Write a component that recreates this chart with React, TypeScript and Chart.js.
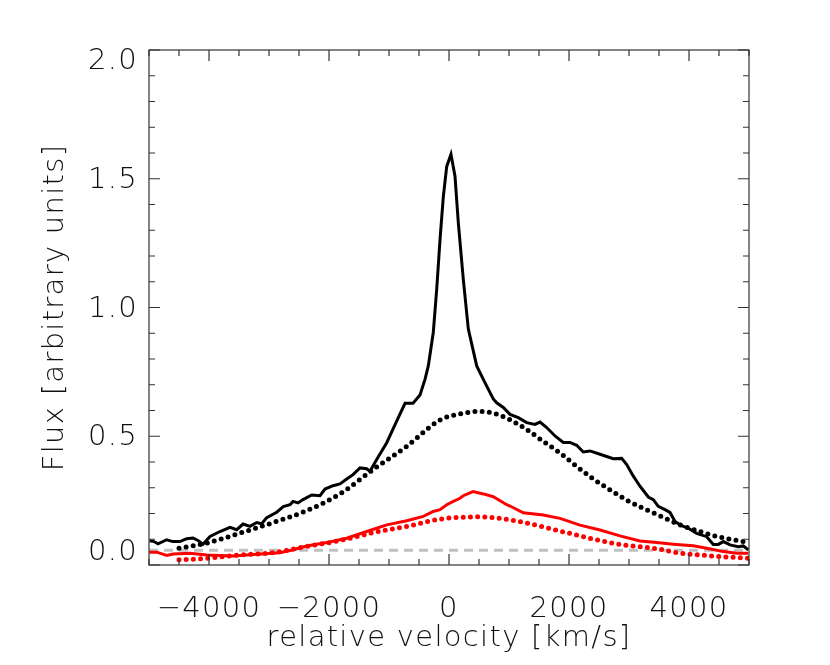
import { useEffect, useRef } from "react"
import { Chart, registerables } from "chart.js"

Chart.register(...registerables)

// observed profile (solid black)
const velBlack = [
  -4990, -4917, -4850, -4705, -4600, -4483, -4372, -4267, -4183, -4100, -3983, -3817, -3650, -3538,
  -3433, -3317, -3205, -3122, -3038, -2872, -2762, -2650, -2600, -2517, -2433, -2288, -2150, -2067,
  -1933, -1817, -1705, -1600, -1483, -1372, -1317, -1205, -1038, -872, -733, -600, -483, -400, -345,
  -262, -205, -150, -95, -38, 33, 100, 155, 238, 322, 462, 572, 650, 738, 795, 905, 1017, 1155, 1295,
  1433, 1517, 1628, 1767, 1905, 2017, 2128, 2238, 2350, 2517, 2738, 2878, 2962, 3072, 3183, 3322,
  3405, 3488, 3600, 3683, 3767, 3850, 4017, 4128, 4295, 4405, 4488, 4572, 4683, 4822, 4905, 4988,
]
const fluxBlack = [
  0.094, 0.091, 0.082, 0.098, 0.091, 0.091, 0.102, 0.105, 0.095, 0.081, 0.111, 0.130, 0.146, 0.137,
  0.159, 0.150, 0.165, 0.160, 0.184, 0.205, 0.227, 0.234, 0.247, 0.241, 0.254, 0.272, 0.269, 0.295,
  0.308, 0.315, 0.334, 0.351, 0.377, 0.374, 0.364, 0.410, 0.475, 0.559, 0.628, 0.628, 0.660, 0.721, 0.773,
  0.903, 1.070, 1.263, 1.430, 1.548, 1.595, 1.510, 1.330, 1.110, 0.916, 0.773, 0.721, 0.685, 0.645, 0.630,
  0.612, 0.585, 0.572, 0.553, 0.546, 0.555, 0.534, 0.501, 0.476, 0.476, 0.465, 0.439, 0.443, 0.430,
  0.413, 0.414, 0.390, 0.345, 0.306, 0.264, 0.254, 0.228, 0.215, 0.204, 0.169, 0.156, 0.139, 0.123,
  0.110, 0.080, 0.080, 0.091, 0.078, 0.071, 0.074, 0.059,
]

// broad component (dotted black)
const velBroad = [
  -4500, -4038, -3483, -2928, -2372, -1817, -1262, -705, -150, 183, 488, 738, 1017, 1295, 1572, 1850,
  2128, 2405, 2683, 2962, 3238, 3488, 3850, 4183, 4517, 4990,
]
const fluxBroad = [
  0.065, 0.085, 0.124, 0.165, 0.211, 0.276, 0.371, 0.461, 0.563, 0.587, 0.596, 0.590, 0.564, 0.526,
  0.480, 0.435, 0.383, 0.334, 0.292, 0.252, 0.220, 0.194, 0.156, 0.130, 0.108, 0.088,
]

// second profile (solid red)
const velRed = [
  -4995, -4872, -4705, -4595, -4317, -4038, -3595, -3205, -2817, -2595, -2372, -2038, -1705, -1372,
  -1038, -705, -428, -262, -150, -38, 72, 183, 238, 400, 572, 738, 962, 1017, 1238, 1572, 1850, 2183,
  2517, 2850, 3183, 3462, 3738, 4072, 4295, 4572, 4795, 4988,
]
const fluxRed = [
  0.050, 0.050, 0.037, 0.043, 0.046, 0.039, 0.035, 0.042, 0.048, 0.059, 0.074, 0.087, 0.104, 0.130,
  0.156, 0.172, 0.189, 0.208, 0.215, 0.234, 0.247, 0.259, 0.269, 0.285, 0.276, 0.265, 0.234, 0.229,
  0.203, 0.194, 0.181, 0.155, 0.136, 0.113, 0.093, 0.087, 0.081, 0.075, 0.065, 0.052, 0.046, 0.046,
]

// broad component of second profile (dotted red)
const velRedBroad = [
  -4500, -4038, -3483, -2928, -2372, -1817, -1262, -705, -150, 183, 517, 850, 1183, 1517, 1850, 2183,
  2517, 2850, 3183, 3488, 3850, 4183, 4517, 4990,
]
const fluxRedBroad = [
  0.020, 0.026, 0.039, 0.048, 0.072, 0.095, 0.126, 0.150, 0.178, 0.185, 0.187, 0.181, 0.168, 0.151,
  0.132, 0.113, 0.095, 0.080, 0.071, 0.062, 0.046, 0.039, 0.033, 0.026,
]

const baselineFlux = 0.057

const xTickValues = [-4000, -2000, 0, 2000, 4000]
const yTickValues = [0, 0.5, 1, 1.5, 2]
const xMinorStep = 500
const yMinorStep = 0.1

const FONT = "'DejaVu Sans', 'Liberation Sans', sans-serif"
const WEIGHT = 200
const TEXT = "#111"

const pts = (xs: number[], ys: number[]) => xs.map((x, i) => ({ x, y: ys[i] }))

// IDL style box: ticks pointing inwards on all four sides, y labels kept inside the axis range
const idlFrame = {
  id: "idlFrame",
  beforeDraw(chart: Chart) {
    // the vector font of the original is wider than DejaVu
    ;(chart.ctx as any).letterSpacing = "1.3px"
  },
  afterDraw(chart: Chart) {
    const { ctx, chartArea: a } = chart
    const xs = chart.scales.x
    const ys = chart.scales.y
    ctx.save()
    ctx.strokeStyle = "#333"
    ctx.lineWidth = 1.2
    ctx.strokeRect(a.left, a.top, a.right - a.left, a.bottom - a.top)

    ctx.beginPath()
    const nx = Math.round((xs.max - xs.min) / xMinorStep)
    for (let i = 0; i <= nx; i++) {
      const v = xs.min + i * xMinorStep
      const px = xs.getPixelForValue(v)
      const len = xTickValues.includes(v) ? 11 : 6
      ctx.moveTo(px, a.bottom)
      ctx.lineTo(px, a.bottom - len)
      ctx.moveTo(px, a.top)
      ctx.lineTo(px, a.top + len)
    }
    const ny = Math.round((ys.max - ys.min) / yMinorStep)
    for (let i = 0; i <= ny; i++) {
      const py = ys.getPixelForValue(ys.min + i * yMinorStep)
      const len = i % 5 === 0 ? 11 : 6
      ctx.moveTo(a.left, py)
      ctx.lineTo(a.left + len, py)
      ctx.moveTo(a.right, py)
      ctx.lineTo(a.right - len, py)
    }
    ctx.stroke()

    ctx.fillStyle = TEXT
    ctx.font = `${WEIGHT} 29px ${FONT}`
    ctx.textAlign = "right"
    ctx.textBaseline = "middle"
    yTickValues.forEach((v) => {
      const raw = ys.getPixelForValue(v) + 1.5
      const py = Math.min(Math.max(raw, a.top + 11), a.bottom - 13)
      ctx.fillText(v.toFixed(1), a.left - 11, py)
    })
    ctx.restore()
  },
}

export default function App() {
  const chartRef = useRef<HTMLCanvasElement>(null)
  const chartInstance = useRef<Chart | null>(null)

  useEffect(() => {
    if (!chartRef.current) return
    if (chartInstance.current) chartInstance.current.destroy()

    const ctx = chartRef.current.getContext("2d")
    if (!ctx) return

    chartInstance.current = new Chart(ctx, {
      type: "line",
      data: {
        datasets: [
          {
            label: "observed",
            data: pts(velBlack, fluxBlack),
            borderColor: "#000",
            borderWidth: 3,
            tension: 0,
          },
          {
            label: "broad",
            data: pts(velBroad, fluxBroad),
            borderColor: "#000",
            borderWidth: 5,
            borderDash: [0, 7.2],
            borderCapStyle: "round",
            cubicInterpolationMode: "monotone",
          },
          {
            label: "observed 2",
            data: pts(velRed, fluxRed),
            borderColor: "#ff0000",
            borderWidth: 3,
            tension: 0,
          },
          {
            label: "broad 2",
            data: pts(velRedBroad, fluxRedBroad),
            borderColor: "#ff0000",
            borderWidth: 5,
            borderDash: [0, 7.2],
            borderCapStyle: "round",
            cubicInterpolationMode: "monotone",
          },
          {
            label: "baseline",
            data: [
              { x: -5000, y: baselineFlux },
              { x: 5000, y: baselineFlux },
            ],
            borderColor: "#c0c0c0",
            borderWidth: 3,
            borderDash: [9, 6],
          },
        ],
      },
      options: {
        animation: false,
        responsive: true,
        maintainAspectRatio: false,
        elements: { point: { radius: 0, hoverRadius: 0 } },
        layout: { padding: { top: 50, right: 81, left: 0, bottom: 0 } },
        plugins: {
          legend: { display: false },
          tooltip: { enabled: false },
        },
        scales: {
          x: {
            type: "linear",
            min: -5000,
            max: 5000,
            grid: { display: false },
            border: { display: false },
            afterBuildTicks: (s: any) => {
              s.ticks = xTickValues.map((value) => ({ value }))
            },
            afterFit: (s: any) => {
              s.height = 100
            },
            ticks: {
              autoSkip: false,
              maxRotation: 0,
              padding: 19,
              color: TEXT,
              font: { family: FONT, size: 29, weight: WEIGHT },
              callback: (v: any) => (v < 0 ? "\u2212" + Math.abs(v) : String(v)),
            },
            title: {
              display: true,
              text: "relative velocity [km/s]",
              color: TEXT,
              font: { family: FONT, size: 29, weight: WEIGHT },
              padding: { top: 0, bottom: 9 },
            },
          },
          y: {
            type: "linear",
            min: 0,
            max: 2,
            grid: { display: false },
            border: { display: false },
            ticks: { display: false },
            afterFit: (s: any) => {
              s.width = 149
            },
            title: {
              display: true,
              text: "Flux [arbitrary units]",
              color: TEXT,
              font: { family: FONT, size: 29, weight: WEIGHT },
              padding: { top: 38, bottom: 0 },
            },
          },
        },
      },
      plugins: [idlFrame],
    })

    return () => {
      if (chartInstance.current) {
        chartInstance.current.destroy()
        chartInstance.current = null
      }
    }
  }, [])

  return (
    <div style={{ position: "fixed", left: 0, top: 0, width: 830, height: 665, background: "#fff" }}>
      <canvas ref={chartRef} />
    </div>
  )
}
